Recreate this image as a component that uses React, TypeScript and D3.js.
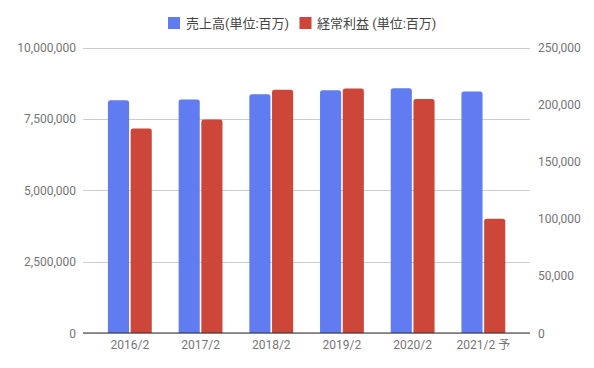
import React from "react";
import * as d3 from "d3";

const categories = ["2016/2", "2017/2", "2018/2", "2019/2", "2020/2", "2021/2 予"];
const salesValues = [8150000, 8180000, 8360000, 8500000, 8570000, 8460000];
const profitValues = [179000, 187000, 213000, 214000, 205000, 100000];
const leftTicks = [0, 2500000, 5000000, 7500000, 10000000];
const rightTicks = [0, 50000, 100000, 150000, 200000, 250000];
const seriesNames = ["売上高(単位:百万)", "経常利益 (単位:百万)"];
const seriesColors = ["#607cf0", "#cc4639"];

const W = 594;
const H = 368;
const plotLeft = 83;
const plotRight = 530;
const plotTop = 47.5;
const plotBottom = 333;
const font = "Roboto, 'Noto Sans CJK JP', sans-serif";

function topRoundedBar(x: number, y: number, w: number, h: number, r: number) {
  const rr = Math.min(r, w / 2, h);
  const p = d3.path();
  p.moveTo(x, y + h);
  p.lineTo(x, y + rr);
  p.quadraticCurveTo(x, y, x + rr, y);
  p.lineTo(x + w - rr, y);
  p.quadraticCurveTo(x + w, y, x + w, y + rr);
  p.lineTo(x + w, y + h);
  p.closePath();
  return p.toString();
}

export default function App() {
  const yL = d3.scaleLinear().domain([0, 10000000]).range([plotBottom, plotTop]);
  const yR = d3.scaleLinear().domain([0, 250000]).range([plotBottom, plotTop]);
  const x0 = d3.scaleBand<string>().domain(categories).range([94.5, 518.7]).padding(0);
  const groupW = x0.bandwidth() * 0.62;
  const x1 = d3.scaleBand<string>().domain(["s", "p"]).range([0, groupW]).paddingInner(0.07);
  const fmt = d3.format(",");

  return (
    <svg width={W} height={H} style={{ position: "absolute", left: 0, top: 0, background: "#fff" }}>
      <rect x={0} y={0} width={W} height={H} fill="#fff" />
      {/* legend */}
      <g fontFamily={font} fontSize={13} fill="#444">
        <rect x={168} y={17} width={12} height={12} fill={seriesColors[0]} />
        <text x={186} y={27.5}>{seriesNames[0]}</text>
        <rect x={299.5} y={17} width={12} height={12} fill={seriesColors[1]} />
        <text x={317} y={27.5}>{seriesNames[1]}</text>
      </g>
      {/* gridlines */}
      {leftTicks.map((t) => (
        <line key={"g" + t} x1={plotLeft} x2={plotRight} y1={Math.round(yL(t)) + 0.5} y2={Math.round(yL(t)) + 0.5} stroke="#cccccc" strokeWidth={1} />
      ))}
      {rightTicks.filter((t) => t > 0).map((t) => (
        <line key={"r" + t} x1={plotLeft} x2={plotRight} y1={Math.round(yR(t)) + 0.5} y2={Math.round(yR(t)) + 0.5} stroke="#cccccc" strokeWidth={1} opacity={0} />
      ))}
      {/* bars */}
      {categories.map((c, i) => {
        const gx = (x0(c) as number) + (x0.bandwidth() - groupW) / 2;
        const ys = yL(salesValues[i]);
        const yp = yR(profitValues[i]);
        return (
          <g key={c}>
            <path d={topRoundedBar(gx + (x1("s") as number), ys, x1.bandwidth(), plotBottom - ys, 2.5)} fill={seriesColors[0]} />
            <path d={topRoundedBar(gx + (x1("p") as number), yp, x1.bandwidth(), plotBottom - yp, 2.5)} fill={seriesColors[1]} />
          </g>
        );
      })}
      {/* baseline */}
      <line x1={plotLeft} x2={plotRight} y1={plotBottom} y2={plotBottom} stroke="#333" strokeWidth={1} />
      {/* left axis labels */}
      <g fontFamily={font} fontSize={12} fill="#757575" textAnchor="end">
        {leftTicks.map((t) => (
          <text key={"l" + t} x={76} y={yL(t) + 4.5}>{fmt(t)}</text>
        ))}
      </g>
      {/* right axis labels */}
      <g fontFamily={font} fontSize={12} fill="#757575" textAnchor="start">
        {rightTicks.map((t) => (
          <text key={"rt" + t} x={538} y={yR(t) + 4.5}>{fmt(t)}</text>
        ))}
      </g>
      {/* x labels */}
      <g fontFamily={font} fontSize={12} fill="#757575" textAnchor="middle">
        {categories.map((c) => (
          <text key={"x" + c} x={(x0(c) as number) + x0.bandwidth() / 2} y={349}>{c}</text>
        ))}
      </g>
    </svg>
  );
}
